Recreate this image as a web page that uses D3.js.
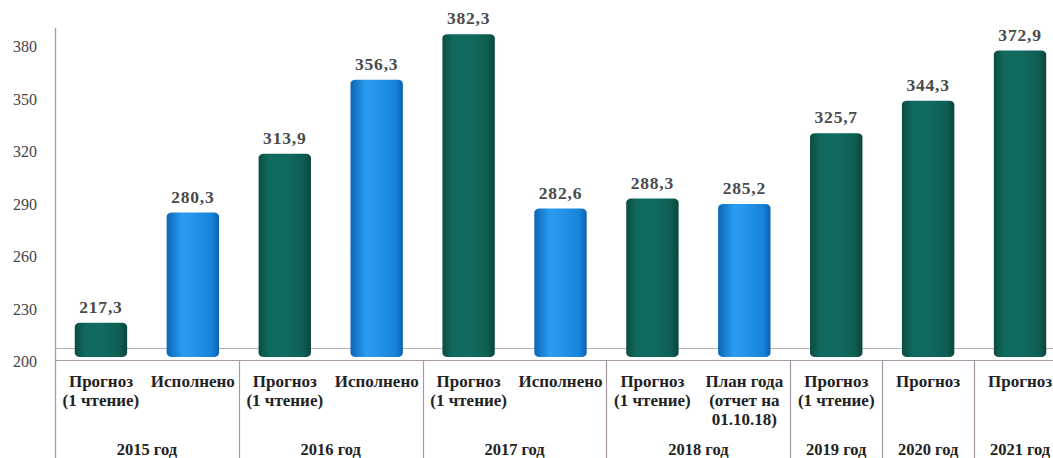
<!DOCTYPE html>
<html><head><meta charset="utf-8">
<script src="https://cdn.jsdelivr.net/npm/d3@7"></script>
</head><body style="margin:0;padding:0;background:#fff">
<svg id="c" width="1053" height="458" style="display:block"></svg>
<script>
const categories = [
  ["Прогноз","(1 чтение)"],["Исполнено"],
  ["Прогноз","(1 чтение)"],["Исполнено"],
  ["Прогноз","(1 чтение)"],["Исполнено"],
  ["Прогноз","(1 чтение)"],["План года","(отчет на","01.10.18)"],
  ["Прогноз","(1 чтение)"],["Прогноз"],["Прогноз"]
];
const values = [217.3, 280.3, 313.9, 356.3, 382.3, 282.6, 288.3, 285.2, 325.7, 344.3, 372.9];
const kinds = ["f","a","f","a","f","a","f","a","f","f","f"]; // f = прогноз, a = исполнено/план
const groups = ["2015 год","2016 год","2017 год","2018 год","2019 год","2020 год","2021 год"];
const groupSizes = [2,2,2,2,1,1,1];
const yTicks = [200,230,260,290,320,350,380];

const FONT = '"Liberation Serif"';
const svg = d3.select("#c");
const defs = svg.append("defs");
function grad(id, stops){
  const g = defs.append("linearGradient").attr("id",id).attr("x1","0").attr("x2","1").attr("y1","0").attr("y2","0");
  stops.forEach(s=>g.append("stop").attr("offset",s[0]).attr("stop-color",s[1]));
}
grad("gf",[[0,"#0b4c44"],[0.2,"#10695d"],[0.5,"#116b5e"],[0.85,"#0e5e53"],[1,"#0a453e"]]);
grad("ga",[[0,"#0c66b6"],[0.3,"#2a9cf0"],[0.5,"#2594ea"],[0.85,"#1784dc"],[1,"#0c62ae"]]);

const x = d3.scaleBand().domain(d3.range(values.length)).range([55,1066]).paddingInner(0.43).paddingOuter(0.215);
const y = d3.scaleLinear().domain([200,380]).range([353,38.2]);
const bw = x.bandwidth();
const step = x.step();
const left0 = x(0) - (step-bw)/2;

// y axis labels (3D offset)
const axis = d3.axisLeft(y).tickValues(yTicks).tickSize(0).tickPadding(0).tickFormat(d3.format("d"));
const ag = svg.append("g").attr("transform","translate(37,8)").call(axis);
ag.select(".domain").remove();
ag.attr("font-family",null).attr("font-size",null);
ag.selectAll("text").style("font-family",FONT).attr("font-size",16).attr("fill","#444").attr("dy","0.35em");

// axis line
svg.append("line").attr("x1",55.5).attr("x2",55.5).attr("y1",28).attr("y2",458).attr("stroke","#a898a8").attr("stroke-width",1.3);
// floor back line
svg.append("line").attr("x1",55).attr("x2",1053).attr("y1",348.5).attr("y2",348.5).attr("stroke","#b5adb5").attr("stroke-width",1.2);
// table top line
svg.append("line").attr("x1",55).attr("x2",1053).attr("y1",360.5).attr("y2",360.5).attr("stroke","#a898a8").attr("stroke-width",1.2);

// group separators and year labels
let acc = 0;
const bounds = [];
groupSizes.forEach((n,i)=>{ bounds.push([acc, acc+n]); acc += n; });
bounds.forEach((b,i)=>{
  const xr = left0 + b[1]*step;
  if (i < bounds.length-1)
    svg.append("line").attr("x1",Math.round(xr)+0.5).attr("x2",Math.round(xr)+0.5).attr("y1",360).attr("y2",458).attr("stroke","#a898a8").attr("stroke-width",1.2);
  const cx = left0 + (b[0]+b[1])/2*step;
  svg.append("text").attr("x",cx).attr("y",455).attr("text-anchor","middle").style("font-family",FONT)
    .attr("font-size",16.5).attr("font-weight","bold").attr("fill","#222").text(groups[i]);
});

// bars
const bottom = 357;
const bars = svg.append("g");
values.forEach((v,i)=>{
  const x0 = x(i), top = y(v);
  bars.append("rect").attr("x",x0).attr("y",top).attr("width",bw).attr("height",bottom-top)
    .attr("rx",5).attr("ry",4).attr("fill", kinds[i]==="f" ? "url(#gf)" : "url(#ga)");
  bars.append("text").attr("x",x0+bw/2).attr("y",top-10).attr("text-anchor","middle").style("font-family",FONT)
    .attr("font-size",17.5).attr("font-weight","bold").attr("fill","#4a4a4a")
    .attr("letter-spacing","0.8px").text(d3.format(".1f")(v).replace(".",","));
});

// category labels
categories.forEach((lines,i)=>{
  const cx = x(i)+bw/2;
  lines.forEach((t,j)=>{
    svg.append("text").attr("x",cx).attr("y",387+j*19).attr("text-anchor","middle").style("font-family",FONT)
      .attr("font-size",17).attr("font-weight","bold").attr("fill","#222").text(t);
  });
});
</script>
</body></html>
